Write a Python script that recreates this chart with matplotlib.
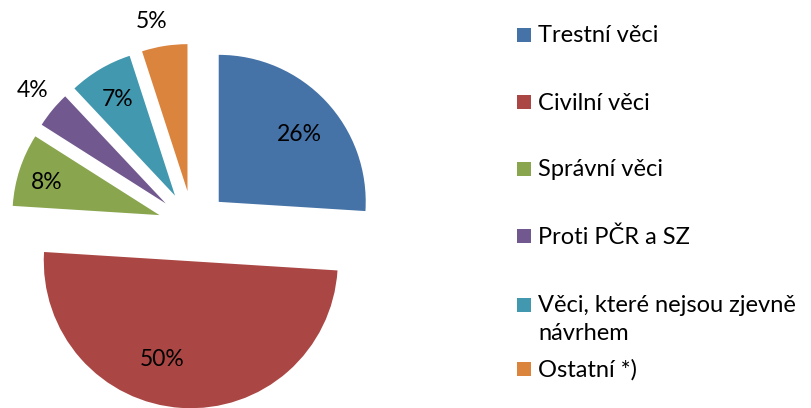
import numpy as np
import matplotlib
matplotlib.use('Agg')
import matplotlib.pyplot as plt
from matplotlib.patches import Rectangle

# data
kategorie = ['Trestní věci', 'Civilní věci', 'Správní věci', 'Proti PČR a SZ',
             'Věci, které nejsou zjevně\nnávrhem', 'Ostatní *)']
podil = [26, 50, 8, 4, 7, 5]
barvy = ['#4572A7', '#AA4643', '#89A54E', '#71588F', '#4198AF', '#DB843D']

# layout of percent labels (distance from slice tip, angle shift in degrees)
label_dist = [0.715, 0.70, 0.80, 1.19, 0.763, 1.18]
label_turn = [-3.6, -12.7, 1.7, -0.6, 0.0, 2.9]
# legend rows (pixel y of each entry's first line centre)
legend_y = [35, 102, 169, 236, 305, 369]

plt.rcParams['font.family'] = ['Lato', 'DejaVu Sans']

W, H = 812, 408
fig = plt.figure(figsize=(W / 100, H / 100), dpi=100)

# pie axes: center at (193, 226) px, radius 147 px
cx, cy, r = 193, 226, 147
half = 1.5 * r
ax = fig.add_axes([(cx - half) / W, (H - cy - half) / H, 2 * half / W, 2 * half / H])
wedges, _ = ax.pie(podil, colors=barvy, startangle=90, counterclock=False,
                   explode=[0.24] * len(podil), radius=1,
                   wedgeprops=dict(linewidth=0))
ax.set_xlim(-1.5, 1.5)
ax.set_ylim(-1.5, 1.5)
ax.set_aspect('equal')
ax.axis('off')

for w, v, d, t in zip(wedges, podil, label_dist, label_turn):
    ang = np.deg2rad((w.theta1 + w.theta2) / 2 + t)
    x0, y0 = w.center
    ax.text(x0 + d * np.cos(ang), y0 + d * np.sin(ang), f'{v}%',
            ha='center', va='center', fontsize=16.5, color='black')

# legend drawn by hand
lax = fig.add_axes([0, 0, 1, 1])
lax.set_xlim(0, W)
lax.set_ylim(H, 0)
lax.axis('off')
for lab, c, y in zip(kategorie, barvy, legend_y):
    lax.add_patch(Rectangle((517, y - 7), 14, 14, color=c, linewidth=0))
    for i, line in enumerate(lab.split('\n')):
        lax.text(538, y + 7.5 + 27 * i, line, ha='left', va='baseline',
                 fontsize=17, color='black')

fig.savefig('out.png', dpi=100)
